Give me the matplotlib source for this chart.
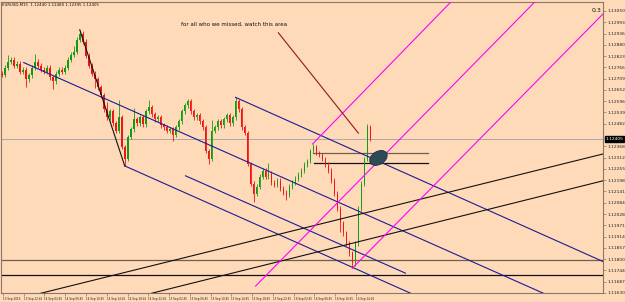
import numpy as np
import matplotlib
matplotlib.use("Agg")
import matplotlib.pyplot as plt
import matplotlib.transforms as mtransforms
from matplotlib.patches import Ellipse

# EURUSD M15 closes (one candle per step)
closes = [1.12730, 1.12765, 1.12795, 1.12805, 1.12775, 1.12785, 1.12745, 1.12755, 1.12705, 1.12725,
          1.12765, 1.12795, 1.12775, 1.12755, 1.12745, 1.12765, 1.12715, 1.12695, 1.12735, 1.12755,
          1.12745, 1.12765, 1.12805, 1.12830, 1.12845, 1.12905, 1.12935, 1.12895, 1.12825, 1.12775,
          1.12735, 1.12705, 1.12665, 1.12625, 1.12555, 1.12515, 1.12545, 1.12485, 1.12445, 1.12515,
          1.12365, 1.12305, 1.12415, 1.12455, 1.12505, 1.12485, 1.12515, 1.12480, 1.12545, 1.12565,
          1.12530, 1.12505, 1.12515, 1.12475, 1.12465, 1.12445, 1.12455, 1.12425, 1.12465, 1.12495,
          1.12545, 1.12575, 1.12595, 1.12545, 1.12515, 1.12525, 1.12495, 1.12465, 1.12345, 1.12305,
          1.12445, 1.12465, 1.12495, 1.12475, 1.12505, 1.12525, 1.12485, 1.12515, 1.12595, 1.12555,
          1.12465, 1.12435, 1.12280, 1.12180, 1.12130, 1.12165, 1.12215, 1.12245, 1.12215, 1.12230,
          1.12185, 1.12175, 1.12195, 1.12155, 1.12135, 1.12125, 1.12165, 1.12185, 1.12205, 1.12225,
          1.12245, 1.12275, 1.12295, 1.12345, 1.12365, 1.12335, 1.12325, 1.12305, 1.12275, 1.12245,
          1.12195, 1.12130, 1.12055, 1.11980, 1.11930, 1.11880, 1.11830, 1.11780, 1.11880, 1.12055,
          1.12180, 1.12305, 1.12465, 1.12405]
# extreme wicks
spike_hi = {2: 1.12830, 11: 1.12835, 24: 1.12875, 26: 1.12955, 35: 1.12590, 39: 1.12600,
            44: 1.12560, 49: 1.12600, 62: 1.12605, 70: 1.12500, 78: 1.12615, 89: 1.12285,
            104: 1.12380, 122: 1.12480}
spike_lo = {8: 1.12665, 17: 1.12655, 31: 1.12660, 41: 1.12270, 57: 1.12395, 69: 1.12280,
            84: 1.12090, 95: 1.12100, 113: 1.11935, 117: 1.11755}

# drawn objects: (bar, price) anchors
black_seg = [(26, 1.12955), (41, 1.12270)]
blue_rays = [[(7.3, 1.12790), (66.3, 1.12395)],
             [(78, 1.12615), (199.7, 1.11795)],
             [(41, 1.12270), (137, 1.11625)]]
blue_seg = [(61.3, 1.12220), (134.7, 1.11730)]
black_rays = [[(12, 1.11625), (200.7, 1.12330)],
              [(49, 1.11625), (200.7, 1.12195)]]
magenta_rays = [[(103.7, 1.12380), (150, 1.13097)],
                [(84.7, 1.11665), (145.3, 1.12595)],
                [(117, 1.11755), (186.3, 1.12815)]]
arrow_seg = [(92.3, 1.12940), (119, 1.12435)]
short_levels = [(1.12335, 104, 142.3, "#6e5e50"), (1.12285, 104.3, 142.3, "#111111")]
long_levels = [(1.11795, "#6e5e50"), (1.11720, "#111111")]
ellipse_center = (125.7, 1.12310)

xlabels = ["13 Sep 2016", "13 Sep 22:45", "14 Sep 02:45", "14 Sep 06:45", "14 Sep 10:45",
           "14 Sep 14:45", "14 Sep 18:45", "14 Sep 22:45", "15 Sep 02:45", "15 Sep 06:45",
           "15 Sep 10:45", "15 Sep 14:45", "15 Sep 18:45", "15 Sep 22:45", "16 Sep 02:45",
           "16 Sep 06:45", "16 Sep 10:45", "16 Sep 14:45"]
price_top, price_bottom = 1.13050, 1.11630

bg = "#ffdab9"
frame = "#8a7765"

fig = plt.figure(figsize=(6.25, 3.02), dpi=100, facecolor=bg)
ax = fig.add_axes([1 / 625, 9 / 302, 602 / 625, 291 / 302], facecolor=bg)
xmax = 200.67
ax.set_xlim(-0.3, xmax)
ax.set_ylim(1.11640, 1.13095)

# candles
x = np.arange(len(closes))
opens = [closes[0] + 0.00005] + closes[:-1]
for i in x:
    o, c = opens[i], closes[i]
    hi = spike_hi.get(i, max(o, c) + 0.00012)
    lo = spike_lo.get(i, min(o, c) - 0.00012)
    col = "#139a13" if c >= o else "#f01414"
    ax.vlines(i, lo, hi, color=col, lw=0.6, zorder=3)
    ax.bar(i, max(abs(c - o), 0.00003), bottom=min(o, c), width=0.55, color=col, lw=0, zorder=3)

# current price line
ax.axhline(closes[-1], color="#a9a9a9", lw=0.7, zorder=1)
for lvl, col in long_levels:
    ax.axhline(lvl, color=col, lw=0.9, zorder=2)
for lvl, x0, x1, col in short_levels:
    ax.plot([x0, x1], [lvl, lvl], color=col, lw=0.9, zorder=2)


def ray(p, q, **kw):
    (x0, y0), (x1, y1) = p, q
    k = (y1 - y0) / (x1 - x0)
    ax.plot([x0, xmax], [y0, y0 + k * (xmax - x0)], **kw)


for r in blue_rays:
    ray(*r, color="#1c1c96", lw=0.8, zorder=4)
ax.plot(*zip(*blue_seg), color="#1c1c96", lw=0.8, zorder=4)
for r in black_rays:
    ray(*r, color="#111111", lw=0.8, zorder=4)
for r in magenta_rays:
    ray(*r, color="#ff00ff", lw=0.8, zorder=4)
ax.plot(*zip(*black_seg), color="#111111", lw=0.8, zorder=4)
ax.plot(*zip(*arrow_seg), color="#8b1a1a", lw=0.8, zorder=4)

tr = fig.dpi_scale_trans + mtransforms.ScaledTranslation(*ellipse_center, ax.transData)
ax.add_patch(Ellipse((0, 0), 0.19, 0.13, angle=32, transform=tr,
                     fc="#2d4b52", ec="#1b2f4a", lw=0.6, zorder=5))

ax.text(0.299, 0.924, "for all who we missed, watch this area", transform=ax.transAxes,
        fontsize=4.0, va="center", ha="left", color="#111111")
ax.text(0.002, 0.99, "EURUSD,M15  1.12440 1.12480 1.12395 1.12405", transform=ax.transAxes,
        fontsize=2.8, va="center", ha="left", color="#111111")
ax.text(0.998, 0.97, "0.3", transform=ax.transAxes, fontsize=4.5, va="center", ha="right",
        color="#111111")

# axes styling
for s in ax.spines.values():
    s.set_color(frame)
    s.set_linewidth(0.8)
ax.yaxis.tick_right()
yt = np.linspace(price_top, price_bottom, 26)
yt = [v for v in yt if abs(v - closes[-1]) > 0.00025]
ax.set_yticks(yt)
ax.set_yticklabels([f"{v:.5f}" for v in yt])
ax.tick_params(axis="y", direction="out", length=2, width=0.5, color=frame,
               labelsize=3.2, pad=1, labelcolor="#222222")
step = 20.8 / 3
xt = [(1 + step * 3 * k) / 3 for k in range(len(xlabels))]
ax.set_xticks(xt)
ax.set_xticklabels(xlabels, ha="left")
ax.tick_params(axis="x", direction="out", length=2, width=0.5, color=frame,
               labelsize=1.95, pad=1, labelcolor="#222222")
ax.text(1.004, closes[-1], f"{closes[-1]:.5f}", transform=ax.get_yaxis_transform(),
        color="white", fontsize=3.2, va="center", ha="left",
        bbox=dict(boxstyle="square,pad=0.15", fc="black", ec="black"))

fig.savefig("out.png", dpi=100, facecolor=bg)
